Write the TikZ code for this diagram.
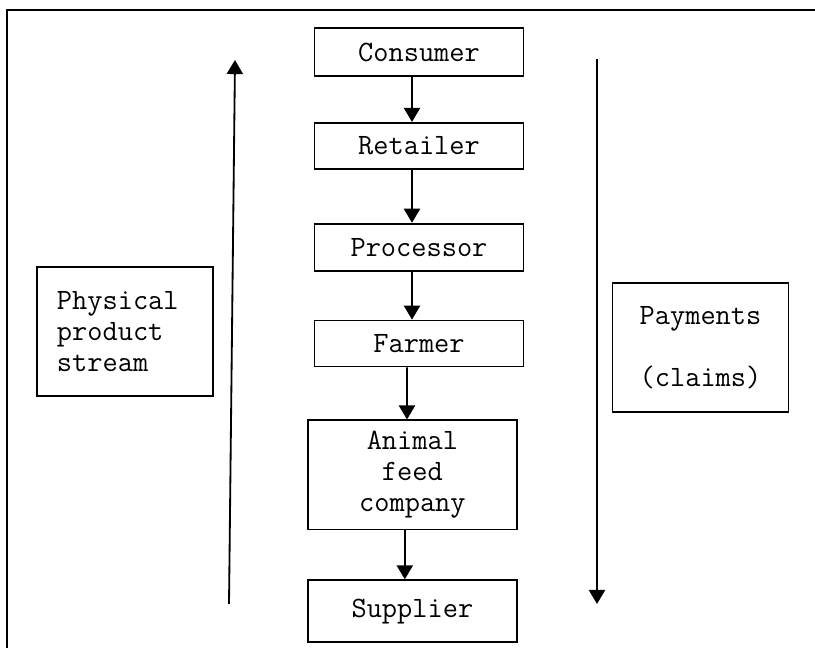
\documentclass[tikz,border=0pt]{standalone}
\usepackage{fontspec}
\usetikzlibrary{arrows.meta,positioning}
\tikzset{
  %% chain boxes (centre column)
  chainbox/.style={rectangle,draw,line width=1.3pt,inner sep=0pt,
                   minimum width=5.225cm,minimum height=1.2cm,
                   font=\ttfamily\fontsize{21}{22}\selectfont,align=center},
  %% side label boxes
  sidebox/.style={rectangle,draw,line width=1.3pt,inner sep=0pt,
                  minimum width=4.4cm,minimum height=3.225cm,
                  font=\ttfamily\fontsize{21}{22}\selectfont},
  %% arrows
  flowarr/.style={-{Triangle[length=10pt,width=11.5pt]},line width=1.3pt},
}

\begin{document}
\begin{tikzpicture}[x=0.025cm,y=-0.025cm]
    \useasboundingbox (0,0) rectangle (815,648);

    %% frame
    \coordinate (FrameBot) at (7,648);
    \coordinate (FrameCorner) at (7,10);
    \coordinate (FrameEnd) at (815,10);
    \draw[line width=1.3pt] (FrameBot) -- (FrameCorner) -- (FrameEnd);

    %% chain
    \node[chainbox] (CONS) at (419,52) {Consumer};
    \node[chainbox, below=1.125cm of CONS, minimum height=1.15cm] (RET) {Retailer};
    \node[chainbox, below=1.325cm of RET, minimum height=1.175cm] (PROC) {Processor};
    \node[chainbox, below=1.2cm of PROC, minimum height=1.15cm] (FARM) {Farmer};
    \node[chainbox, below=1.3cm of FARM, xshift=-0.165cm, minimum height=2.725cm] (FEED) {Animal\\feed\\company};
    \node[chainbox, below=1.225cm of FEED, minimum height=1.55cm] (SUPP) {Supplier};

    %% chain arrows
    \draw[flowarr] ([xshift=-0.175cm]CONS.south) -- ([xshift=-0.175cm]RET.north);
    \draw[flowarr] ([xshift=-0.175cm]RET.south)  -- ([xshift=-0.175cm]PROC.north);
    \draw[flowarr] ([xshift=-0.175cm]PROC.south) -- ([xshift=-0.175cm]FARM.north);
    \draw[flowarr] ([xshift=-0.3cm]FARM.south)   -- ([xshift=-0.135cm]FEED.north);
    \draw[flowarr] ([xshift=-0.19cm]FEED.south)  -- ([xshift=-0.19cm]SUPP.north);

    %% side labels
    \node[sidebox, text width=3.4cm, align=left] (PHYS) at (125,331.5) {Physical\\product\\stream};
    \node[sidebox, align=center] (PAY) at (700.5,347.5) {Payments\\[22pt](claims)};

    %% long arrows
    \coordinate (PhysBot) at (229,604);
    \coordinate (PhysTop) at (235,60);
    \coordinate (PayTop) at (597,59);
    \coordinate (PayBot) at (597,604);
    \draw[flowarr] (PhysBot) -- (PhysTop);
    \draw[flowarr] (PayTop) -- (PayBot);
\end{tikzpicture}
\end{document}
